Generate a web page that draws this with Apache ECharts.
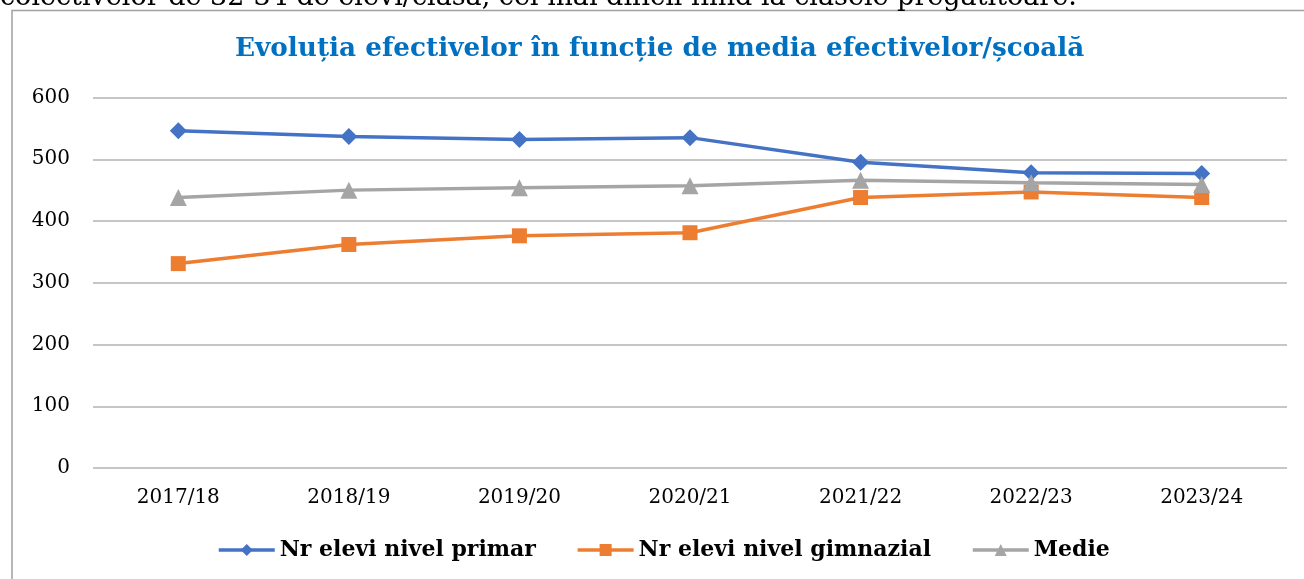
<!DOCTYPE html>
<html>
<head>
<meta charset="utf-8">
<script src="https://cdn.jsdelivr.net/npm/echarts@6/dist/echarts.min.js"></script>
<style>
html,body{margin:0;padding:0;background:#fff;}
#chart{width:1304px;height:579px;}
</style>
</head>
<body>
<div id="chart"></div>
<script>
const categories = ['2017/18','2018/19','2019/20','2020/21','2021/22','2022/23','2023/24'];
const primar = [546, 537, 532, 535, 495, 478, 477];
const gimnazial = [331, 362, 376, 381, 438, 447, 438];
const medie = [438, 450, 454, 457, 466, 462, 459];
const seriesNames = ['Nr elevi nivel primar', 'Nr elevi nivel gimnazial', 'Medie'];
const titleText = 'Evoluția efectivelor în funcție de media efectivelor/școală';
const aboveText = 'colectivelor de 32-34 de elevi/clasă, cel mai dificil fiind la clasele pregătitoare.';

const serif = '"DejaVu Serif", serif';
const chart = echarts.init(document.getElementById('chart'), null, {renderer:'canvas'});
chart.setOption({
  animation: false,
  backgroundColor: '#fff',
  title: {
    text: titleText,
    left: 230,
    top: 31,
    textStyle: {fontFamily: serif, fontWeight: 'bold', fontSize: 26.3, color: '#0070C0'}
  },
  graphic: [
    {type: 'polyline', shape: {points: [[12, 700], [12, 10.5], [1400, 10.5]]},
     style: {fill: 'none', stroke: '#a0a0a0', lineWidth: 1.5}, silent: true},
    {type: 'text', left: 0, top: -16, silent: true,
     style: {text: aboveText, font: '27px "DejaVu Serif", serif', fill: '#000'}}
  ],
  legend: {
    bottom: 13,
    left: 212,
    itemWidth: 56,
    itemHeight: 15,
    itemGap: 40,
    lineStyle: {width: 3.5},
    textStyle: {fontFamily: serif, fontWeight: 'bold', fontSize: 22, color: '#000'},
    data: seriesNames
  },
  grid: {left: 93, right: 17, top: 97.5, bottom: 111},
  xAxis: {
    type: 'category',
    data: categories,
    boundaryGap: true,
    axisLine: {show: false},
    axisTick: {show: false},
    axisLabel: {fontFamily: serif, fontSize: 20, color: '#000', margin: 20}
  },
  yAxis: {
    type: 'value',
    min: 0, max: 600, interval: 100,
    axisLine: {show: false},
    axisTick: {show: false},
    axisLabel: {fontFamily: serif, fontSize: 20, color: '#000', margin: 23},
    splitLine: {lineStyle: {color: '#b3b3b3', width: 1.5}}
  },
  series: [
    {name: seriesNames[0], type: 'line', data: primar, symbol: 'diamond', symbolSize: 17,
     lineStyle: {width: 3.5, color: '#4472C4'}, itemStyle: {color: '#4472C4'}, z: 3},
    {name: seriesNames[1], type: 'line', data: gimnazial, symbol: 'rect', symbolSize: 15,
     lineStyle: {width: 3.5, color: '#ED7D31'}, itemStyle: {color: '#ED7D31'}, z: 2},
    {name: seriesNames[2], type: 'line', data: medie, symbol: 'triangle', symbolSize: 17,
     lineStyle: {width: 3.5, color: '#A5A5A5'}, itemStyle: {color: '#A5A5A5'}, z: 4}
  ]
});
</script>
</body>
</html>
